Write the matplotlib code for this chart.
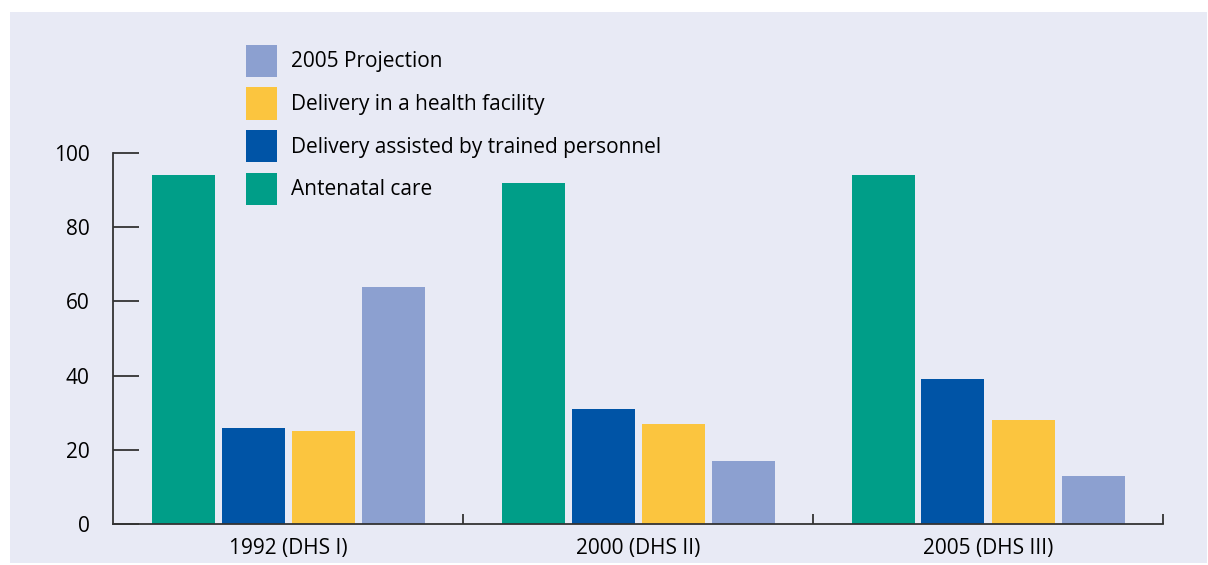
import matplotlib.pyplot as plt
import numpy as np

plt.rcParams['font.family'] = ['Open Sans', 'DejaVu Sans']

# data
groups = ["1992 (DHS I)", "2000 (DHS II)", "2005 (DHS III)"]
antenatal = [94, 92, 94]
assisted = [26, 31, 39]
facility = [25, 27, 28]
projection = [64, 17, 13]

series_names = ["Antenatal care", "Delivery assisted by trained personnel",
                "Delivery in a health facility", "2005 Projection"]
colors = ["#009e88", "#0054a6", "#fbc53f", "#8ca0d0"]
bg = "#e8eaf5"

W, H = 1208, 565
fig = plt.figure(figsize=(W / 100, H / 100), dpi=100)
fig.patch.set_facecolor("white")

# lavender panel behind everything
bgax = fig.add_axes([10 / W, 1 - 563 / H, (1207 - 10) / W, (563 - 12) / H], zorder=-5)
bgax.set_facecolor(bg)
bgax.set_xticks([])
bgax.set_yticks([])
for s in bgax.spines.values():
    s.set_visible(False)

# axes: left spine x=113, right end 1163, y0=524, y100=153
ax = fig.add_axes([113 / W, 1 - 524 / H, (1163 - 113) / W, (524 - 153) / H])
ax.set_facecolor('none')

x = np.arange(len(groups))
slot = 0.2
bw = 0.18
all_series = [antenatal, assisted, facility, projection]
bars = []
for i, vals in enumerate(all_series):
    b = ax.bar(x + (i - 1.5) * slot, vals, width=bw, color=colors[i], label=series_names[i], zorder=2)
    bars.append(b)

ax.set_xlim(-0.5, 2.5)
ax.set_ylim(0, 100)
ax.set_yticks([0, 20, 40, 60, 80, 100])
ax.tick_params(axis='y', direction='in', length=19, width=1.3, color='#333333', labelsize=15, pad=17)
ax.set_xticks(x)
ax.set_xticklabels(groups)
ax.tick_params(axis='x', which='major', length=0, labelsize=15, pad=10)
ax.set_xticks([0.5, 1.5, 2.5], minor=True)
ax.tick_params(axis='x', which='minor', direction='in', length=7, width=1.3, color='#333333')

for s in ['top', 'right']:
    ax.spines[s].set_visible(False)
for s in ['left', 'bottom']:
    ax.spines[s].set_linewidth(1.3)
    ax.spines[s].set_color('#333333')

handles = [bars[i] for i in [3, 2, 1, 0]]
labels = [series_names[i] for i in [3, 2, 1, 0]]
leg = fig.legend(handles, labels, loc='upper left', bbox_to_anchor=(227 / W, 1 - 26 / H),
                 frameon=False, fontsize=15, handlelength=1.49, handleheight=2.0,
                 handletextpad=0.7, labelspacing=0.5)

fig.savefig("out.png", dpi=100)
